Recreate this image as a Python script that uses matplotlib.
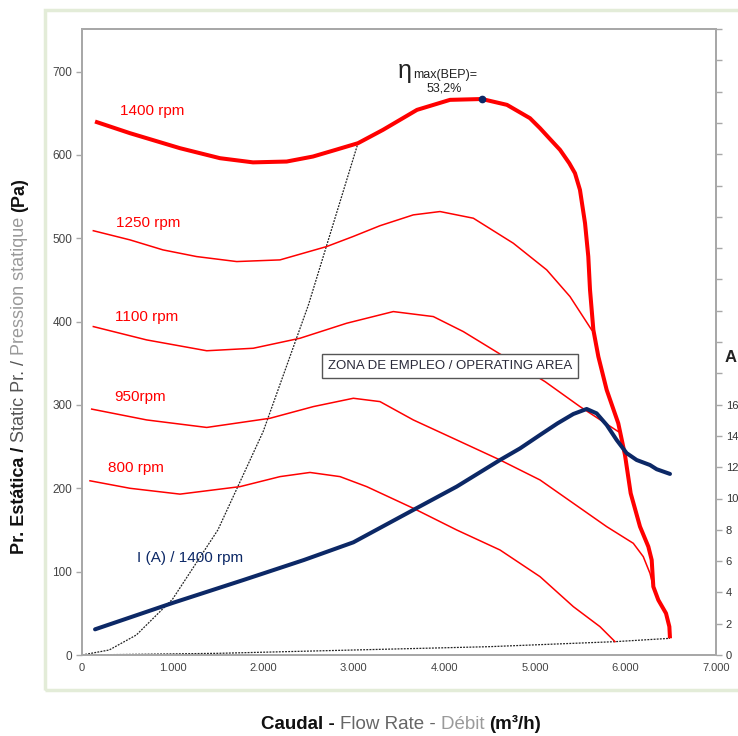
import matplotlib
matplotlib.use('Agg')
import matplotlib.pyplot as plt
from matplotlib.patches import Rectangle
from matplotlib.ticker import FuncFormatter

plt.rcParams['font.family'] = ['Liberation Sans', 'DejaVu Sans']

# ---------------- data ----------------
q_1400 = [144, 530, 1082, 1524, 1888, 2260, 2550, 2800, 3047, 3323, 3699, 4063, 4416,
          4692, 4946, 5057, 5150, 5278, 5380, 5443, 5498, 5554, 5590, 5609, 5646, 5701,
          5793, 5921, 5995, 6058, 6161, 6253, 6290, 6308, 6363, 6448, 6485, 6492]
p_1400 = [640, 626, 608, 596, 591, 592, 598, 606, 614, 630, 654, 666, 667,
          660, 644, 632, 621, 606, 590, 578, 558, 518, 478, 438, 390, 358,
          318, 278, 240, 194, 154, 130, 114, 82, 66, 50, 34, 20]

q_1250 = [125, 530, 894, 1265, 1708, 2186, 2701, 2992, 3290, 3658, 3953, 4321, 4762, 5131, 5388, 5627]
p_1250 = [509, 498, 486, 478, 472, 474, 490, 502, 515, 528, 532, 524, 494, 462, 430, 390]

q_1100 = [125, 714, 1377, 1891, 2407, 2922, 3437, 3879, 4210, 4541, 5112, 5498, 5921]
p_1100 = [394, 378, 365, 368, 380, 398, 412, 406, 388, 366, 328, 298, 268]

q_950 = [107, 714, 1377, 2076, 2554, 2996, 3290, 3658, 4137, 4615, 5057, 5425, 5793,
         6087, 6197, 6271, 6308]
p_950 = [295, 282, 273, 284, 298, 308, 304, 282, 258, 234, 210, 182, 154,
         134, 118, 98, 82]

q_800 = [88, 530, 1082, 1745, 2186, 2517, 2849, 3143, 3658, 4137, 4615, 5057, 5425, 5719, 5885]
p_800 = [209, 200, 193, 202, 214, 219, 214, 202, 176, 150, 126, 94, 58, 34, 16]

q_amp = [144, 1008, 1781, 2450, 2996, 3658, 4137, 4615, 4836, 5057, 5250, 5425, 5572,
         5682, 5793, 5903, 6013, 6124, 6271, 6345, 6492]
i_amp = [1.64, 3.34, 4.79, 6.07, 7.2, 9.27, 10.76, 12.46, 13.2, 14.06, 14.8, 15.4, 15.72,
         15.44, 14.7, 13.74, 12.9, 12.46, 12.14, 11.87, 11.57]

q_sys1 = [0, 300, 600, 1000, 1500, 2000, 2500, 3047]
p_sys1 = [0, 6, 24, 67, 150, 268, 420, 614]

q_sys2 = [0, 1500, 3000, 4500, 5885, 6492]
p_sys2 = [0, 2, 6, 10, 16, 20]

bep_q, bep_p = 4416, 667

rpm_labels = ['1400 rpm', '1250 rpm', '1100 rpm', '950rpm', '800 rpm']
rpm_label_pos = [(420, 653), (375, 518), (364, 406), (353, 310), (287, 224)]

x_ticks = [0, 1000, 2000, 3000, 4000, 5000, 6000, 7000]
y_ticks = [0, 100, 200, 300, 400, 500, 600, 700]
y2_ticks = list(range(0, 41, 2))
y2_labeled = [0, 2, 4, 6, 8, 10, 12, 14, 16]

RED = '#ff0000'
NAVY = '#0c2866'
GRAY_TXT = '#444444'
SPINE = '#a8a8a8'

# ---------------- figure ----------------
fig = plt.figure(figsize=(7.38, 7.36), dpi=100)
W, H = 738.0, 736.0
fig.patches.append(Rectangle((45 / W, 1 - 690 / H), (760 - 45) / W, (690 - 10) / H,
                             transform=fig.transFigure, fill=False,
                             ec='#e3ecd8', lw=2.5, zorder=0))

ax = fig.add_axes([82 / W, 1 - 655 / H, (716 - 82) / W, (655 - 29) / H])
ax2 = ax.twinx()

ax.set_xlim(0, 7000)
ax.set_ylim(0, 751)
ax2.set_ylim(0, 40)

# system curves
ax.plot(q_sys1, p_sys1, color='#222222', lw=0.9, ls=(0, (1.5, 1)), zorder=3)
ax.plot(q_sys2, p_sys2, color='#222222', lw=0.9, ls=(0, (1.5, 1)), zorder=3)

# fan curves
kw_thin = dict(color=RED, lw=1.1, solid_joinstyle='round')
ax.plot(q_1250, p_1250, zorder=4, **kw_thin)
ax.plot(q_1100, p_1100, zorder=2, **kw_thin)
ax.plot(q_950, p_950, zorder=4, **kw_thin)
ax.plot(q_800, p_800, zorder=4, **kw_thin)
ax.plot(q_1400, p_1400, color=RED, lw=2.9, zorder=5, solid_capstyle='butt',
        solid_joinstyle='round')
ax.plot([bep_q], [bep_p], 'o', color=NAVY, ms=4.5, zorder=6)

# current
ax2.plot(q_amp, i_amp, color=NAVY, lw=2.9, zorder=5, solid_capstyle='round',
         solid_joinstyle='round')

# labels on curves
for lab, (lx, ly) in zip(rpm_labels, rpm_label_pos):
    ax.text(lx, ly, lab, color=RED, fontsize=11, ha='left', va='center', zorder=7)
ax.text(607, 116, 'I (A) / 1400 rpm', color=NAVY, fontsize=11, ha='left', va='center', zorder=7)

ax.text(3490, 692, '\u03b7', fontsize=18, color='#222222', ha='left', va='baseline', zorder=7)
ax.text(3660, 692, 'max(BEP)=', fontsize=9, color='#222222', ha='left', va='baseline', zorder=7)
ax.text(4000, 680, '53,2%', fontsize=9, color='#222222', ha='center', va='center', zorder=7)

ax.text(4060, 347, 'ZONA DE EMPLEO / OPERATING AREA', fontsize=9.5, color='#2a2a3a',
        ha='center', va='center', zorder=8,
        bbox=dict(boxstyle='square,pad=0.45', fc='white', ec='#555555', lw=1.0))

# axes styling
for a in (ax, ax2):
    for s in a.spines.values():
        s.set_color(SPINE)
        s.set_linewidth(1.4)

ax.set_xticks(x_ticks)
ax.xaxis.set_major_formatter(FuncFormatter(lambda v, p: f'{int(v):,}'.replace(',', '.')))
ax.tick_params(axis='x', length=0, pad=6, labelsize=8, labelcolor=GRAY_TXT)
ax.set_yticks(y_ticks)
ax.tick_params(axis='y', length=4, width=1, color=SPINE, pad=3, labelsize=8.5, labelcolor=GRAY_TXT)

ax2.set_yticks(y2_ticks)
ax2.set_yticklabels([str(t) if t in y2_labeled else '' for t in y2_ticks])
ax2.tick_params(axis='y', length=4, width=1, color=SPINE, pad=3, labelsize=8, labelcolor='#333333')

fig.text(0.998, 1 - 357 / H, 'A', fontsize=12, fontweight='bold', color='#222222',
         ha='right', va='center')


# multi-coloured axis titles
def multicolor(parts, x, y, rotation=0, fontsize=11):
    r = fig.canvas.get_renderer()
    texts = []
    for s, color, weight in parts:
        t = fig.text(0, 0, s, color=color, fontweight=weight, fontsize=fontsize,
                     rotation=rotation, ha='left', va='baseline', rotation_mode='anchor')
        texts.append(t)
    sizes = []
    for t in texts:
        bb = t.get_window_extent(r)
        sizes.append(bb.width if rotation == 0 else bb.height)
    total = sum(sizes)
    if rotation == 0:
        start = x * fig.bbox.width - total / 2
        for t, w in zip(texts, sizes):
            t.set_position((start / fig.bbox.width, y))
            start += w
    else:
        start = y * fig.bbox.height - total / 2
        for t, w in zip(texts, sizes):
            t.set_position((x, start / fig.bbox.height))
            start += w


multicolor([('Caudal - ', '#111111', 'bold'), ('Flow Rate - ', '#666666', 'normal'),
            ('Débit ', '#9a9a9a', 'normal'), ('(m\u00b3/h)', '#111111', 'bold')],
           401 / W, 1 - 729 / H, rotation=0, fontsize=13.5)
multicolor([('Pr. Estática / ', '#111111', 'bold'), ('Static Pr. / ', '#555555', 'normal'),
            ('Pression statique ', '#9a9a9a', 'normal'), ('(Pa)', '#111111', 'bold')],
           24 / W, 1 - 366 / H, rotation=90, fontsize=13)

fig.savefig('out.png', dpi=100)
